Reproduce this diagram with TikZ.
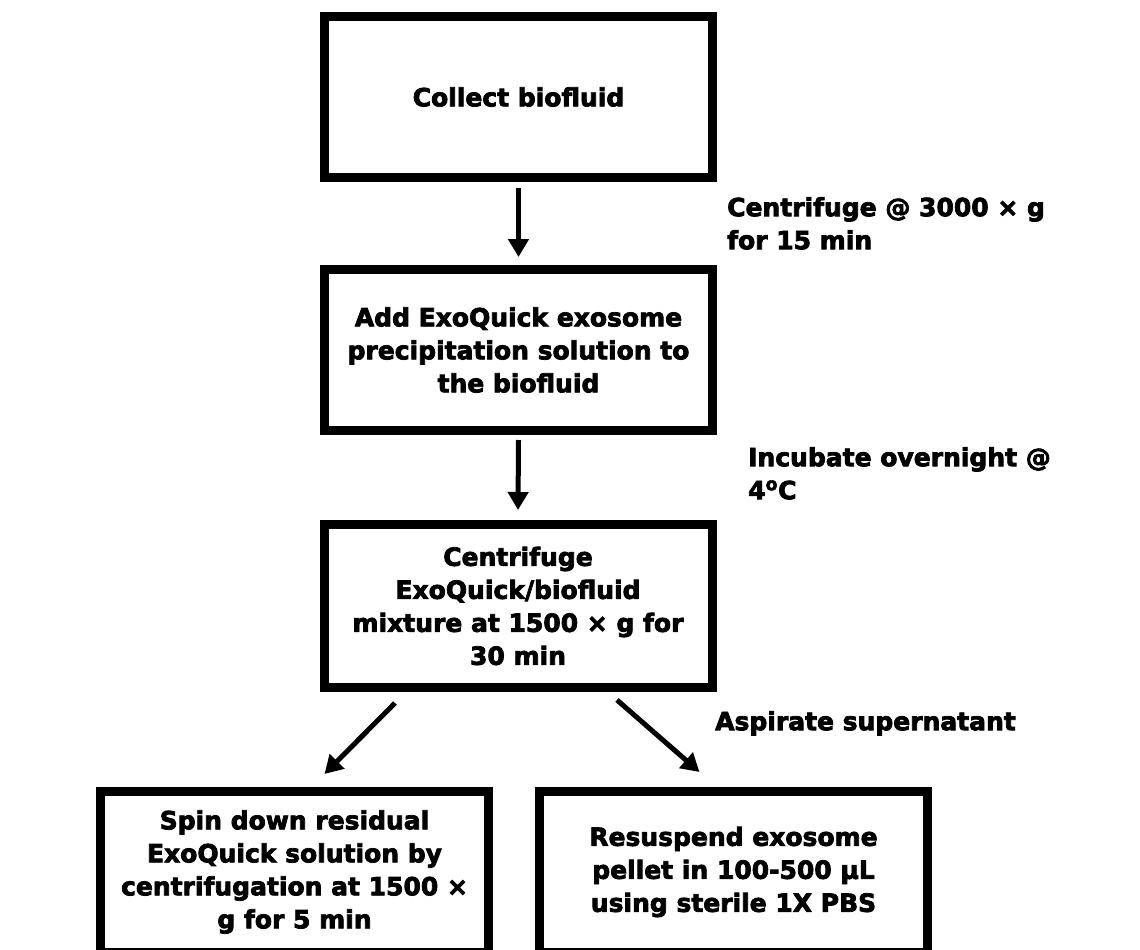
\documentclass[tikz,border=0pt]{standalone}
\usepackage{fontspec}
\setmainfont{DejaVu Sans}[BoldFeatures={FakeBold=3}]
\usepackage{tikz}
\usetikzlibrary{arrows.meta}
\def\boxfont{\fontsize{25}{33}\selectfont\bfseries}

\begin{document}
\begin{tikzpicture}[x=1pt, y=-1pt,
		stepbox/.style={draw=black, line width=9pt, minimum width=388pt, minimum height=161pt, align=center, inner sep=0pt, font=\boxfont},
		steplabel/.style={anchor=north west, align=left, inner sep=0pt, font=\boxfont},
		steparrow/.style={line width=5pt, -{Triangle[width=20pt,length=18pt]}}]
			%%%%% START %%%%%
			
			\path[use as bounding box, clip] (0, 0) rectangle (1140, 950);
			
			\node[stepbox] (collect) at (518.5, 97) {Collect biofluid};
			\node[stepbox] (addexo) at (518.5, 350) {Add ExoQuick exosome\\precipitation solution to\\the biofluid};
			\node[stepbox, minimum height=163pt] (spinmix) at (518, 606) {Centrifuge\\ExoQuick/biofluid\\mixture at 1500 × g for\\30 min};
			
			\node[stepbox] (spindown) at (294.5, 872) {Spin down residual\\ExoQuick solution by\\centrifugation at 1500 ×\\g for 5 min};
			\node[stepbox] (resusp) at (733.5, 872) {Resuspend exosome\\pellet in 100-500 µL\\using sterile 1X PBS};
			
			\node[steplabel] (lbspin) at (727, 197) {Centrifuge @ 3000 × g\\for 15 min};
			\node[steplabel] (lbincub) at (748, 447) {Incubate overnight @\\4\textsuperscript{o}C};
			\node[steplabel] (lbaspir) at (715, 711) {Aspirate supernatant};
			
			\draw[steparrow] ([yshift=-6pt]collect.south) -- ([yshift=8pt]addexo.north);
			\draw[steparrow] ([yshift=-5pt]addexo.south) -- ([yshift=10pt]spinmix.north);
			\draw[steparrow] ([xshift=-123pt, yshift=-11pt]spinmix.south) -- ([xshift=30pt, yshift=13pt]spindown.north);
			\draw[steparrow] ([xshift=99pt, yshift=-8pt]spinmix.south) -- ([xshift=-34pt, yshift=15pt]resusp.north);
			
			%%%%% END %%%%%
		\end{tikzpicture}
\end{document}
